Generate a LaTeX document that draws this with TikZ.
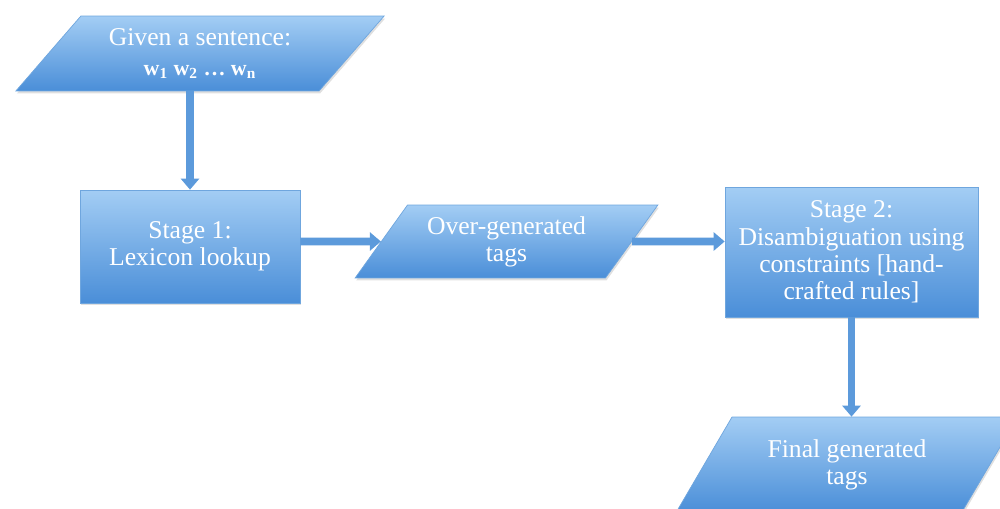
\documentclass[tikz,border=0pt]{standalone}
\usepackage{fontspec}
\setmainfont{Liberation Serif}
\usetikzlibrary{shapes.geometric,shadows,arrows.meta}

\definecolor{boxtop}{HTML}{A3CDF4}
\definecolor{boxbot}{HTML}{4A8ED8}
\definecolor{boxline}{HTML}{6FA6DE}
\definecolor{arrcol}{HTML}{5C9ADB}

\begin{document}
\begin{tikzpicture}[x=0.02cm,y=-0.02cm,
    blk/.style={top color=boxtop,bottom color=boxbot,draw=boxline,line width=0.4pt,
        text=white,align=center,font=\fontsize{14.6}{15.5}\selectfont,
        drop shadow={opacity=0.25,shadow xshift=0.02cm,shadow yshift=-0.05cm}},
    sbox/.style={blk,rectangle,inner sep=2pt},
    iobox/.style={blk,trapezium,trapezium stretches=true,inner sep=1pt},
    arr/.style={draw=arrcol,line width=4.5pt,-{Triangle[width=0.36cm,length=0.22cm]}}]
    \useasboundingbox (0,0) rectangle (1000,509);

    \node[iobox,trapezium left angle=47,trapezium right angle=133,
        minimum width=7.38cm,minimum height=1.5cm] (inp) at (200,53.5)
        {Given a sentence:\\[2pt]{\fontsize{12.5}{14}\selectfont\bfseries w\textsubscript{1} w\textsubscript{2} \dots\ w\textsubscript{n}}};
    \node[sbox,minimum width=4.4cm,minimum height=2.26cm] (s1) at (190,246.5)
        {Stage 1:\\Lexicon lookup};
    \node[iobox,trapezium left angle=51.5,trapezium right angle=128.5,
        minimum width=6.06cm,minimum height=1.46cm] (over) at (506.5,241.5)
        {Over-generated\\tags};
    \node[sbox,minimum width=5.06cm,minimum height=2.6cm] (s2) at (851.5,252)
        {Stage 2:\\Disambiguation using\\constraints [hand-\\crafted rules]};
    \node[iobox,trapezium left angle=54,trapezium right angle=126,
        minimum width=6.84cm,minimum height=1.9cm] (fin) at (847,464.5)
        {Final generated\\tags};

    \draw[arr] (s1.north |- inp.south) -- (s1.north);
    \draw[arr] (s1.east |- over) -- (over);
    \draw[arr] (over) -- (s2.west |- over);
    \draw[arr] (s2.south) -- (s2.south |- fin.north);
\end{tikzpicture}
\end{document}
